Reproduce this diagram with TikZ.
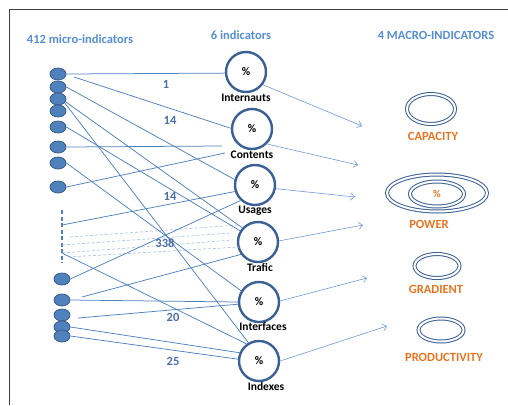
\documentclass[tikz,border=0pt]{standalone}
\usepackage{fontspec}
\setmainfont{Carlito}
\usetikzlibrary{shapes.geometric,arrows.meta}
\definecolor{ttl}{HTML}{558ED5}
\definecolor{num}{HTML}{4A6FA8}
\definecolor{conn}{HTML}{4F81BD}
\definecolor{arr}{HTML}{6F9AD8}
\definecolor{ring}{HTML}{3B6096}
\definecolor{mfill}{HTML}{4F81BD}
\definecolor{mdraw}{HTML}{385D8A}
\definecolor{org}{HTML}{E9731F}
\definecolor{dsh}{HTML}{B4C7E7}
\definecolor{frm}{HTML}{404040}
\tikzset{
  micro/.style={ellipse, fill=mfill, draw=mdraw, line width=0.8pt, minimum width=16pt, minimum height=12pt, inner sep=0pt},
  indic/.style={circle, draw=ring, line width=2.4pt, fill=white, minimum size=40pt, inner sep=0pt, font=\fontsize{11.5}{12}\selectfont\bfseries},
  ilabel/.style={font=\fontsize{11.5}{12}\selectfont\bfseries, inner sep=0pt},
  title/.style={font=\fontsize{12.5}{14}\selectfont\bfseries, text=ttl, inner sep=0pt},
  numlab/.style={font=\fontsize{12.5}{14}\selectfont\bfseries, text=num, inner sep=0pt},
  macro/.style={ellipse, draw=ring, double=white, double distance=2pt, line width=1pt, inner sep=0pt},
  mlabel/.style={font=\fontsize{12.5}{14}\selectfont\bfseries, text=org, inner sep=0pt},
  link/.style={draw=conn, line width=0.75pt},
  dlink/.style={draw=dsh, line width=0.75pt, dash pattern=on 3pt off 2pt},
  flow/.style={draw=arr, line width=0.6pt, -{Straight Barb[length=4pt,width=7pt]}},
}
\begin{document}
\begin{tikzpicture}[x=1pt,y=-1pt]
\useasboundingbox (0,0) rectangle (508,405);
\draw[frm, line width=1pt] (9,405) -- (9,9) -- (508,9);

% titles
\node[title] (t1) at (80,39) {412 micro-indicators};
\node[title] (t2) at (241,35) {6 indicators};
\node[title] (t3) at (436,35) {4 MACRO-INDICATORS};

% indicator circles
\node[indic] (int) at (246,72) {\%};
\node[indic] (con) at (252,129) {\%};
\node[indic] (usa) at (255,185) {\%};
\node[indic] (tra) at (258,242) {\%};
\node[indic] (inf) at (259,302) {\%};
\node[indic] (idx) at (259,361) {\%};
\node[ilabel] (intl) at (246,98) {Internauts};
\node[ilabel] (conl) at (252,155) {Contents};
\node[ilabel] (usal) at (255,211) {Usages};
\node[ilabel] (tral) at (260,267) {Trafic};
\node[ilabel] (infl) at (263,327) {Interfaces};
\node[ilabel] (idxl) at (266,386) {Indexes};

% micro ellipses
\node[micro] (m1) at (58,74) {};
\node[micro] (m2) at (58,87) {};
\node[micro] (m3) at (58,99) {};
\node[micro] (m4) at (58,111) {};
\node[micro] (m5) at (58,127) {};
\node[micro] (m6) at (58,147) {};
\node[micro] (m7) at (58,163) {};
\node[micro] (m8) at (58,187) {};
\node[micro] (n1) at (62,279) {};
\node[micro] (n2) at (62,300) {};
\node[micro] (n3) at (62,315) {};
\node[micro] (n4) at (62,327) {};
\node[micro] (n5) at (62,336) {};

% dashed column
\coordinate (dtop0) at (62,210);
\coordinate (dbot0) at (62,263);
\draw[conn, line width=1.6pt, dash pattern=on 4pt off 2.5pt] (dtop0) -- (dbot0);

% free ends
\coordinate (s2) at (74,77);
\coordinate (c7) at (222,146);
\coordinate (c8) at (225,153);
\coordinate (dtop) at (62,225);
\coordinate (dbot) at (62,253);
\coordinate (s12) at (82,297);
\coordinate (s14) at (78,318);
\coordinate (d1) at (70,237);
\coordinate (d2) at (62,245);
\coordinate (d3) at (62,253);
\coordinate (d4) at (68,257);
\coordinate (e1) at (239,225);
\coordinate (e2) at (231,233);
\coordinate (e3) at (233,240);
\coordinate (e4) at (239,247);

% dashed light links
\draw[dlink] (d1) -- (e1);
\draw[dlink] (d2) -- (e2);
\draw[dlink] (d3) -- (e3);
\draw[dlink] (d4) -- (e4);

% links
\draw[link] (m1.east) -- (int.183);
\draw[link] (s2) -- (con.178);
\draw[link] (m2.east) -- (usa.165);
\draw[link] (m3.-30) -- (idx.120);
\draw[link] (m3.-20) -- (tra.138);
\draw[link] (m5.east) -- (tra.148);
\draw[link] (m6.east) -- (c7);
\draw[link] (m8.east) -- (c8);
\draw[link] (m7.east) -- (inf.148);
\draw[link] (dtop) -- (usa.198);
\draw[link] (n1.east) -- (usa.227);
\draw[link] (s12) -- (tra.216);
\draw[link] (n2.east) -- (inf.180);
\draw[link] (s14) -- (inf.186);
\draw[link] (n4.east) -- (idx.157);
\draw[link] (n5.east) -- (idx.175);
\draw[link] (dbot) -- (idx.126);

% numbers
\node[numlab] (k1) at (166,84) {1};
\node[numlab] (k2) at (170,120) {14};
\node[numlab] (k3) at (170,196) {14};
\node[numlab] (k4) at (165,243) {338};
\node[numlab] (k5) at (173,317) {20};
\node[numlab] (k6) at (173,361) {25};

% macro indicators
\node[macro, minimum width=48pt, minimum height=30pt] (cap) at (431,109) {};
\node[macro, minimum width=100pt, minimum height=37pt] (pow) at (437,193) {};
\node[macro, minimum width=54pt, minimum height=25pt, font=\fontsize{10.5}{12}\selectfont\bfseries, text=org] (powin) at (437,194) {\%};
\node[macro, minimum width=45pt, minimum height=24pt] (gra) at (437,266) {};
\node[macro, minimum width=45pt, minimum height=23pt] (pro) at (441,330) {};
\node[mlabel] (capl) at (433,136) {CAPACITY};
\node[mlabel] (powl) at (429,224) {POWER};
\node[mlabel] (gral) at (436,289) {GRADIENT};
\node[mlabel] (prol) at (444,357) {PRODUCTIVITY};

% flows
\coordinate (a1) at (362,126);
\coordinate (a2) at (358,165);
\coordinate (a3) at (355,197);
\coordinate (a4) at (363,225);
\coordinate (a5) at (367,278);
\coordinate (a6) at (387,326);
\draw[flow] (int.-37) -- (a1);
\draw[flow] (con.-45) -- (a2);
\draw[flow] (usa.-10) -- (a3);
\draw[flow] (tra.3) -- (a4);
\draw[flow] (inf.3) -- (a5);
\draw[flow] (idx.0) -- (a6);
\end{tikzpicture}
\end{document}
